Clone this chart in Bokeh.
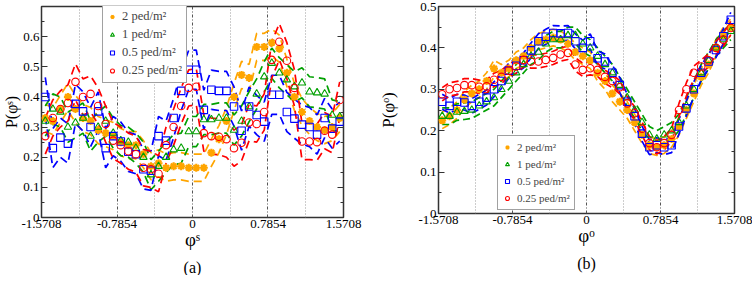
import numpy as np
from bokeh.plotting import figure
from bokeh.layouts import row
from bokeh.models import (Range1d, FixedTicker, LinearAxis, Legend, LegendItem,
                          Title, Grid, ColumnDataSource)
from bokeh.embed import file_html
from bokeh.resources import INLINE

# ---------------- data ----------------
N_BINS = 40
labels = ["2 ped/m²", "1 ped/m²", "0.5 ped/m²", "0.25 ped/m²"]
colors = ["#FFA500", "#00A000", "#0000FF", "#FF0000"]
markers = ["asterisk", "triangle", "square", "circle"]

# panel (a): P(phi^s)
ps_2 = [0.33, 0.32, 0.36, 0.40, 0.36, 0.33, 0.32, 0.29, 0.28, 0.27,
        0.25, 0.24, 0.24, 0.21, 0.17, 0.18, 0.165, 0.17, 0.17, 0.165,
        0.165, 0.165, 0.215, 0.26, 0.32, 0.40, 0.473, 0.463, 0.566, 0.566,
        0.58, 0.56, 0.48, 0.40, 0.35, 0.32, 0.30, 0.29, 0.30, 0.33]
ps_1 = [0.32, 0.36, 0.35, 0.30, 0.314, 0.33, 0.27, 0.30, 0.32, 0.28,
        0.255, 0.25, 0.23, 0.20, 0.142, 0.17, 0.20, 0.225, 0.23, 0.285,
        0.285, 0.325, 0.325, 0.33, 0.33, 0.29, 0.32, 0.368, 0.41, 0.467,
        0.512, 0.48, 0.457, 0.434, 0.447, 0.417, 0.414, 0.41, 0.34, 0.335]
ps_05 = [0.40, 0.23, 0.265, 0.245, 0.377, 0.352, 0.30, 0.352, 0.23, 0.27,
         0.252, 0.218, 0.21, 0.16, 0.155, 0.27, 0.255, 0.33, 0.42, 0.49,
         0.49, 0.357, 0.424, 0.42, 0.42, 0.368, 0.288, 0.368, 0.34, 0.318,
         0.407, 0.407, 0.35, 0.328, 0.308, 0.30, 0.275, 0.33, 0.295, 0.318]
ps_025 = [0.27, 0.33, 0.36, 0.38, 0.45, 0.40, 0.41, 0.37, 0.31, 0.255,
          0.24, 0.22, 0.21, 0.165, 0.16, 0.145, 0.24, 0.30, 0.37, 0.43,
          0.434, 0.28, 0.27, 0.268, 0.26, 0.23, 0.248, 0.315, 0.31, 0.35,
          0.523, 0.583, 0.52, 0.43, 0.252, 0.252, 0.25, 0.288, 0.275, 0.39]
ps_spread = [0.045, 0.05, 0.065, 0.06]

# panel (b): P(phi^o)
po_2 = [0.225, 0.235, 0.25, 0.275, 0.29, 0.30, 0.32, 0.35, 0.34, 0.35,
        0.37, 0.38, 0.40, 0.415, 0.42, 0.425, 0.42, 0.41, 0.39, 0.38,
        0.37, 0.34, 0.32, 0.29, 0.27, 0.25, 0.22, 0.19, 0.165, 0.16,
        0.165, 0.18, 0.21, 0.25, 0.29, 0.33, 0.36, 0.40, 0.43, 0.45]
po_1 = [0.235, 0.235, 0.245, 0.247, 0.25, 0.26, 0.27, 0.28, 0.30, 0.32,
        0.34, 0.36, 0.38, 0.39, 0.41, 0.42, 0.42, 0.43, 0.43, 0.41,
        0.40, 0.38, 0.36, 0.34, 0.31, 0.28, 0.25, 0.22, 0.19, 0.18,
        0.19, 0.20, 0.22, 0.26, 0.30, 0.34, 0.37, 0.40, 0.42, 0.44]
po_05 = [0.27, 0.26, 0.27, 0.268, 0.26, 0.27, 0.28, 0.30, 0.32, 0.345,
         0.357, 0.37, 0.394, 0.416, 0.427, 0.436, 0.435, 0.436, 0.416, 0.40,
         0.416, 0.375, 0.367, 0.34, 0.31, 0.27, 0.235, 0.193, 0.16, 0.165,
         0.16, 0.165, 0.21, 0.254, 0.30, 0.34, 0.367, 0.395, 0.428, 0.468]
po_025 = [0.288, 0.30, 0.303, 0.31, 0.31, 0.306, 0.307, 0.323, 0.33, 0.345,
          0.355, 0.371, 0.367, 0.367, 0.371, 0.376, 0.384, 0.388, 0.36, 0.347,
          0.351, 0.347, 0.33, 0.32, 0.305, 0.266, 0.242, 0.205, 0.17, 0.16,
          0.17, 0.19, 0.25, 0.30, 0.34, 0.355, 0.37, 0.40, 0.42, 0.448]
po_spread = [0.02, 0.02, 0.018, 0.016]

x_ticks = [-1.5708, -0.7854, 0.0, 0.7854, 1.5708]
x_tick_labels = ["-1.5708", "-0.7854", "0", "0.7854", "1.5708"]
grid_dotted = [-3 * np.pi / 8, -np.pi / 8, np.pi / 8, 3 * np.pi / 8]
grid_dashdot = [-np.pi / 4, 0.0, np.pi / 4]
ya_ticks = [0.0, 0.1, 0.2, 0.3, 0.4, 0.5, 0.6]
ya_labels = ["0", "0.1", "0.2", "0.3", "0.4", "0.5", "0.6"]
yb_ticks = [0.0, 0.1, 0.2, 0.3, 0.4, 0.5]
yb_labels = ["0", "0.1", "0.2", "0.3", "0.4", "0.5"]

FONT = "'Liberation Serif', serif"
x_bins = -np.pi / 2 + (np.arange(N_BINS) + 0.5) * np.pi / N_BINS


def build(series, spreads, y_max, y_ticks, y_labels, xlabel, ylabel, tag,
          frame_w, frame_h, min_left, min_right, min_top, legend_loc,
          legend_font, legend_row, ylab_size, ylab_standoff, dash):
    p = figure(frame_width=frame_w, frame_height=frame_h,
               min_border_left=min_left, min_border_right=min_right,
               min_border_top=min_top, min_border_bottom=0,
               x_range=Range1d(x_ticks[0], x_ticks[-1]), y_range=Range1d(0, y_max),
               output_backend="svg", toolbar_location=None)
    p.background_fill_color = "white"
    p.border_fill_color = "white"
    p.outline_line_color = "#333333"
    p.outline_line_width = 1.5

    # vertical reference lines
    p.xgrid.ticker = FixedTicker(ticks=grid_dotted)
    p.xgrid.grid_line_color = "#9a9a9a"
    p.xgrid.grid_line_dash = "1 2"
    p.xgrid.grid_line_width = 1
    p.ygrid.visible = False
    g2 = Grid(dimension=0, ticker=FixedTicker(ticks=grid_dashdot),
              grid_line_color="#555555", grid_line_dash="3 2 1 2",
              grid_line_width=1)
    p.renderers.append(g2)

    # x axis
    xa = p.xaxis[0]
    xa.ticker = FixedTicker(ticks=x_ticks)
    xa.major_label_overrides = dict(zip(x_ticks, x_tick_labels))
    xa.major_tick_in = 0
    xa.major_tick_out = 0
    xa.minor_tick_line_color = None
    xa.axis_line_color = None
    xa.major_label_text_font = FONT
    xa.major_label_text_font_size = "13px"
    xa.major_label_text_color = "black"
    xa.major_label_standoff = 2
    xa.axis_label = xlabel
    xa.axis_label_text_font = FONT
    xa.axis_label_text_font_size = "19px"
    xa.axis_label_text_font_style = "normal"
    xa.axis_label_text_color = "black"
    xa.axis_label_standoff = -2

    minor = list(np.round(np.arange(0.05, y_max, 0.1), 3))
    ya = p.yaxis[0]
    ya.ticker = FixedTicker(ticks=y_ticks, minor_ticks=minor)
    ya.major_label_overrides = dict(zip(y_ticks, y_labels))
    ya.axis_line_color = None
    ya.major_tick_in = 6
    ya.major_tick_out = 0
    ya.minor_tick_in = 3
    ya.minor_tick_out = 0
    ya.major_tick_line_color = "#333333"
    ya.minor_tick_line_color = "#333333"
    ya.major_label_text_font = FONT
    ya.major_label_text_font_size = "13px"
    ya.major_label_text_color = "black"
    ya.major_label_standoff = 2
    ya.axis_label = ylabel
    ya.axis_label_text_font = FONT
    ya.axis_label_text_font_size = ylab_size
    ya.axis_label_text_font_style = "normal"
    ya.axis_label_text_color = "black"
    ya.axis_label_standoff = ylab_standoff

    ra = LinearAxis(ticker=FixedTicker(ticks=y_ticks, minor_ticks=minor))
    ra.axis_line_color = None
    ra.major_tick_in = 6
    ra.major_tick_out = 0
    ra.minor_tick_in = 3
    ra.minor_tick_out = 0
    ra.major_tick_line_color = "#333333"
    ra.minor_tick_line_color = "#333333"
    ra.major_label_text_color = None
    ra.major_label_text_font_size = "8px"
    ra.major_label_standoff = 0
    p.add_layout(ra, "right")

    items = []
    for vals, spr, col in zip(series, spreads, colors):
        v = np.array(vals)
        src = ColumnDataSource(dict(x=x_bins, y=v, up=v + spr, lo=v - spr))
        p.line("x", "up", source=src, line_color=col, line_width=1.7, line_dash=dash)
        p.line("x", "lo", source=src, line_color=col, line_width=1.7, line_dash=dash)
    for vals, col, mk, lab in zip(series, colors, markers, labels):
        src = ColumnDataSource(dict(x=x_bins, y=vals))
        if mk == "asterisk":
            r = p.scatter("x", "y", source=src, marker=mk, size=8,
                          line_color=col, line_width=2.2)
        else:
            r = p.scatter("x", "y", source=src, marker=mk, size=7.5,
                          line_color=col, fill_color=None, line_width=1.1)
        items.append(LegendItem(label=lab, renderers=[r]))

    lg = Legend(items=items, location=legend_loc)
    lg.label_text_font = FONT
    lg.label_text_font_size = legend_font
    lg.label_height = legend_row
    lg.glyph_height = legend_row
    lg.glyph_width = 10
    lg.label_standoff = 5
    lg.spacing = 3
    lg.padding = 4
    lg.margin = 0
    lg.border_line_color = "#444444"
    lg.border_line_width = 1
    lg.background_fill_color = "white"
    lg.background_fill_alpha = 1
    p.add_layout(lg)

    t = Title(text=tag, align="center", offset=-12, standoff=8,
              text_font=FONT, text_font_size="16px", text_font_style="normal",
              text_color="black")
    p.add_layout(t, "below")
    return p


p1 = build([ps_2, ps_1, ps_05, ps_025], ps_spread, 0.7, ya_ticks, ya_labels,
           "φˢ", "P(φˢ)", "(a)", 302, 211, 41, 33, 2, (61, 134), "12.5px", 15,
           "16px", 0, "8 5")
p2 = build([po_2, po_1, po_05, po_025], po_spread, 0.5, yb_ticks, yb_labels,
           "φᵒ", "P(φᵒ)", "(b)", 296, 207, 59, 18, 6, (59, 3), "11px", 14,
           "17px", 19, "7 4")

layout = row(p1, p2)
open("out.html", "w").write(file_html(layout, INLINE))
